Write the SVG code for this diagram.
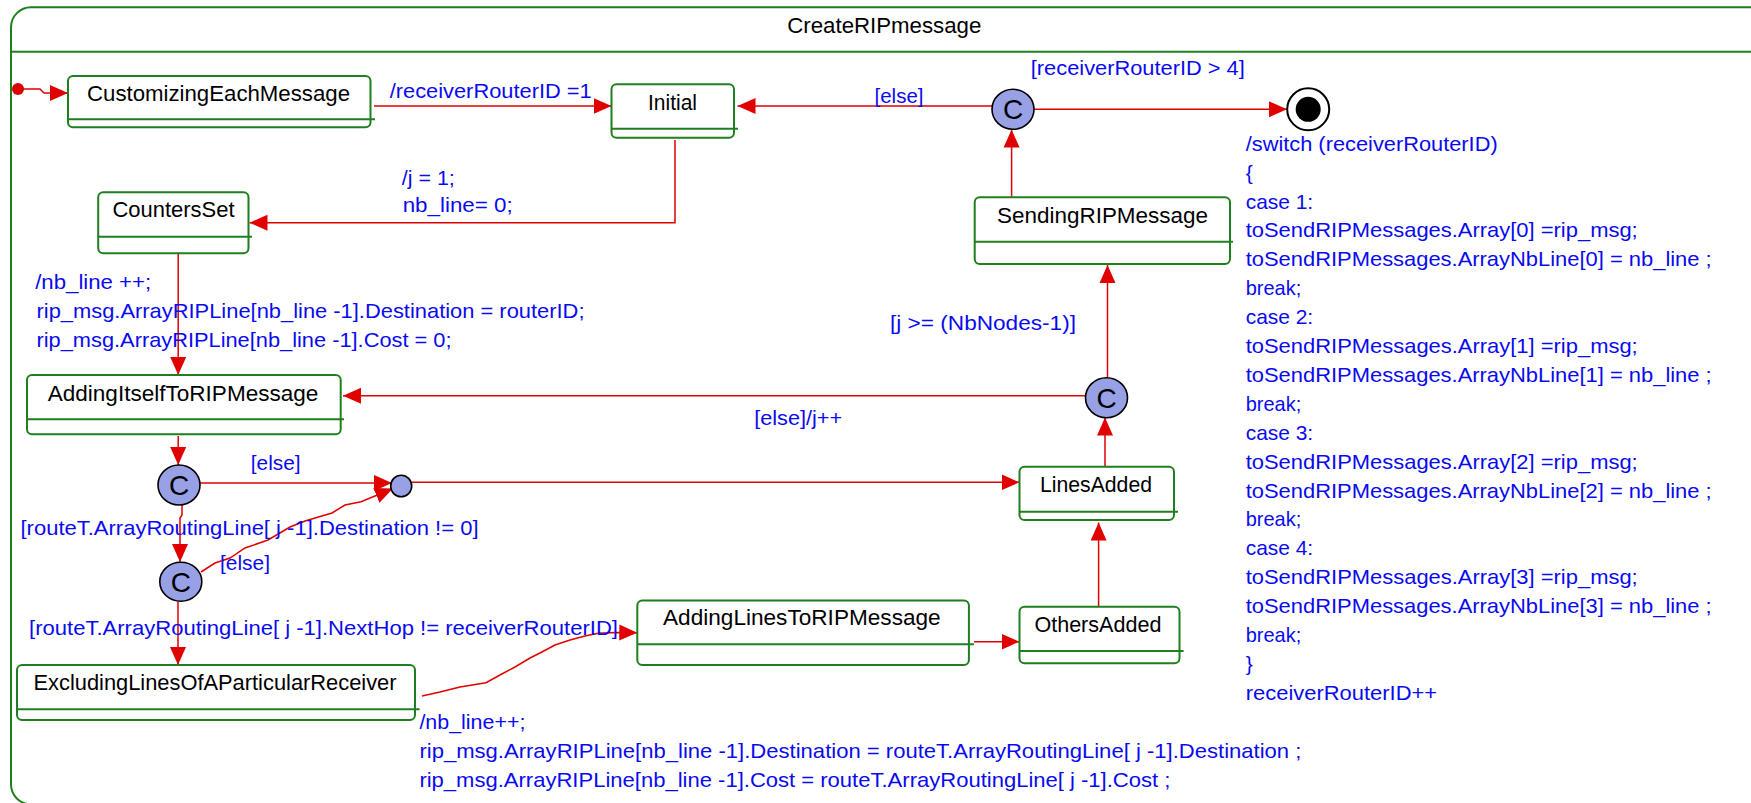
<svg xmlns="http://www.w3.org/2000/svg" width="1751" height="803" viewBox="0 0 1751 803">
<style>
.frame{fill:none;stroke:#1f7f1f;stroke-width:2}
.box{fill:#fff;stroke:#1f7f1f;stroke-width:2}
.div{stroke:#1f7f1f;stroke-width:2}
.nt{font-family:"Liberation Sans",Arial,sans-serif;font-size:22px;fill:#000}
.lb{font-family:"Liberation Sans",Arial,sans-serif;font-size:21px;fill:#0a0af0}
.ct{font-family:"Liberation Sans",Arial,sans-serif;font-size:28px;fill:#000;text-anchor:middle}
.cc{fill:#99a1e6;stroke:#000;stroke-width:1.6}
.ed{fill:none;stroke:#e00000;stroke-width:1.5;marker-end:url(#ah)}
</style>
<defs>
<marker id="ah" markerUnits="userSpaceOnUse" markerWidth="20" markerHeight="18" refX="18" refY="8" orient="auto" viewBox="0 0 20 16">
<path d="M0,0 L18,8 L0,16 z" fill="#e00000"/>
</marker>
</defs>
<rect x="0" y="0" width="1751" height="803" fill="#fff"/>
<g id="frame">
<rect class="frame" x="11" y="7.3" width="1770" height="797" rx="20"/>
<line class="div" x1="11" y1="51.7" x2="1751" y2="51.7"/>
<text class="nt" x="787.3" y="33.3" textLength="194" lengthAdjust="spacingAndGlyphs">CreateRIPmessage</text>
</g>
<g id="connectors">
<path class="ed" d="M18,89 L40,89 L44,93 L68,93" stroke="#e85050"/>
<path class="ed" d="M374,106 L611.5,106"/>
<path class="ed" d="M675,140 L675,222.7 L249.5,222.7"/>
<path class="ed" d="M178.2,254 L178.2,375"/>
<path class="ed" d="M178.2,436 L178.2,465"/>
<path class="ed" d="M200,483 L392,483"/>
<path class="ed" d="M182,505 L182,515 L180,518 L180,562"/>
<path class="ed" d="M201,572 L215,563 L230,558 L245,548 L268,540 L290,527 L305,521 L332,513 L345,505 L361,501.7 L375,496 L393,488.5"/>
<path class="ed" d="M178,601.7 L178,665"/>
<path class="ed" d="M422,696 L440,692 L460,687 L486,682.7 L500,675 L515,667 L530,658 L540,653 L555,645 L570,640 L585,636 L598,633.3 L615,632.5 L637.3,632.7"/>
<path class="ed" d="M412,482.3 L1019.5,482.3"/>
<path class="ed" d="M974,641.7 L1019.5,641.7"/>
<path class="ed" d="M1098.6,606.7 L1098.6,522.5"/>
<path class="ed" d="M1105,466.7 L1105,417.5"/>
<path class="ed" d="M1085.5,395.7 L343,395.7"/>
<path class="ed" d="M1107.5,377.7 L1107.5,265"/>
<path class="ed" d="M1011.6,196.7 L1011.6,129.5"/>
<path class="ed" d="M992,106 L737.5,106"/>
<path class="ed" d="M1034,109.3 L1287,109.3"/>
</g>
<g id="labels">
<text class="lb" x="389.7" y="98.3" textLength="202" lengthAdjust="spacingAndGlyphs">/receiverRouterID =1</text>
<text class="lb" x="874.5" y="103.3" textLength="49" lengthAdjust="spacingAndGlyphs">[else]</text>
<text class="lb" x="1030.8" y="75" textLength="214" lengthAdjust="spacingAndGlyphs">[receiverRouterID &gt; 4]</text>
<text class="lb" x="401.8" y="185" textLength="53" lengthAdjust="spacingAndGlyphs">/j = 1;</text>
<text class="lb" x="402.7" y="211.7" textLength="110" lengthAdjust="spacingAndGlyphs">nb_line= 0;</text>
<text class="lb" x="35.2" y="289.3" textLength="116" lengthAdjust="spacingAndGlyphs">/nb_line ++;</text>
<text class="lb" x="36.5" y="318.3" textLength="548" lengthAdjust="spacingAndGlyphs">rip_msg.ArrayRIPLine[nb_line -1].Destination = routerID;</text>
<text class="lb" x="36.5" y="346.7" textLength="415" lengthAdjust="spacingAndGlyphs">rip_msg.ArrayRIPLine[nb_line -1].Cost = 0;</text>
<text class="lb" x="890" y="330" textLength="186" lengthAdjust="spacingAndGlyphs">[j &gt;= (NbNodes-1)]</text>
<text class="lb" x="754.2" y="425" textLength="88" lengthAdjust="spacingAndGlyphs">[else]/j++</text>
<text class="lb" x="250.8" y="470" textLength="49.7" lengthAdjust="spacingAndGlyphs">[else]</text>
<text class="lb" x="20.5" y="535" textLength="458" lengthAdjust="spacingAndGlyphs">[routeT.ArrayRoutingLine[ j -1].Destination != 0]</text>
<text class="lb" x="220" y="570" textLength="50" lengthAdjust="spacingAndGlyphs">[else]</text>
<text class="lb" x="29" y="635" textLength="589" lengthAdjust="spacingAndGlyphs">[routeT.ArrayRoutingLine[ j -1].NextHop != receiverRouterID]</text>
<text class="lb" x="419.4" y="729" textLength="106" lengthAdjust="spacingAndGlyphs">/nb_line++;</text>
<text class="lb" x="419.4" y="758" textLength="882" lengthAdjust="spacingAndGlyphs">rip_msg.ArrayRIPLine[nb_line -1].Destination = routeT.ArrayRoutingLine[ j -1].Destination ;</text>
<text class="lb" x="419.4" y="786.5" textLength="751" lengthAdjust="spacingAndGlyphs">rip_msg.ArrayRIPLine[nb_line -1].Cost = routeT.ArrayRoutingLine[ j -1].Cost ;</text>
<text class="lb" x="1245.7" y="150.7" textLength="252" lengthAdjust="spacingAndGlyphs">/switch (receiverRouterID)</text>
<text class="lb" x="1245.7" y="179.6">{</text>
<text class="lb" x="1245.7" y="208.5" textLength="67.5" lengthAdjust="spacingAndGlyphs">case 1:</text>
<text class="lb" x="1245.7" y="237.4" textLength="392" lengthAdjust="spacingAndGlyphs">toSendRIPMessages.Array[0] =rip_msg;</text>
<text class="lb" x="1245.7" y="266.3" textLength="466" lengthAdjust="spacingAndGlyphs">toSendRIPMessages.ArrayNbLine[0] = nb_line ;</text>
<text class="lb" x="1245.7" y="295.2" textLength="55.5" lengthAdjust="spacingAndGlyphs">break;</text>
<text class="lb" x="1245.7" y="324.1" textLength="67.5" lengthAdjust="spacingAndGlyphs">case 2:</text>
<text class="lb" x="1245.7" y="353" textLength="392" lengthAdjust="spacingAndGlyphs">toSendRIPMessages.Array[1] =rip_msg;</text>
<text class="lb" x="1245.7" y="381.9" textLength="466" lengthAdjust="spacingAndGlyphs">toSendRIPMessages.ArrayNbLine[1] = nb_line ;</text>
<text class="lb" x="1245.7" y="410.8" textLength="55.5" lengthAdjust="spacingAndGlyphs">break;</text>
<text class="lb" x="1245.7" y="439.7" textLength="67.5" lengthAdjust="spacingAndGlyphs">case 3:</text>
<text class="lb" x="1245.7" y="468.6" textLength="392" lengthAdjust="spacingAndGlyphs">toSendRIPMessages.Array[2] =rip_msg;</text>
<text class="lb" x="1245.7" y="497.5" textLength="466" lengthAdjust="spacingAndGlyphs">toSendRIPMessages.ArrayNbLine[2] = nb_line ;</text>
<text class="lb" x="1245.7" y="526.4" textLength="55.5" lengthAdjust="spacingAndGlyphs">break;</text>
<text class="lb" x="1245.7" y="555.3" textLength="67.5" lengthAdjust="spacingAndGlyphs">case 4:</text>
<text class="lb" x="1245.7" y="584.2" textLength="392" lengthAdjust="spacingAndGlyphs">toSendRIPMessages.Array[3] =rip_msg;</text>
<text class="lb" x="1245.7" y="613.1" textLength="466" lengthAdjust="spacingAndGlyphs">toSendRIPMessages.ArrayNbLine[3] = nb_line ;</text>
<text class="lb" x="1245.7" y="642" textLength="55.5" lengthAdjust="spacingAndGlyphs">break;</text>
<text class="lb" x="1245.7" y="670.9">}</text>
<text class="lb" x="1245.7" y="699.8" textLength="191.5" lengthAdjust="spacingAndGlyphs">receiverRouterID++</text>
</g>
<g id="start"><circle cx="18" cy="89" r="6" fill="#d80000"/></g>
<g id="CustomizingEachMessage">
<rect class="box" x="68" y="76" width="302.5" height="51.3" rx="5"/>
<line class="div" x1="68" y1="119.3" x2="375" y2="119.3"/>
<text class="nt" x="87" y="101" textLength="263" lengthAdjust="spacingAndGlyphs">CustomizingEachMessage</text>
</g>
<g id="Initial">
<rect class="box" x="611.5" y="84.3" width="122.5" height="53.4" rx="5"/>
<line class="div" x1="611.5" y1="128.8" x2="738" y2="128.8"/>
<text class="nt" x="648" y="110" textLength="49" lengthAdjust="spacingAndGlyphs">Initial</text>
</g>
<g id="CountersSet">
<rect class="box" x="98.2" y="192.3" width="150.3" height="61" rx="5"/>
<line class="div" x1="98.2" y1="236.7" x2="252" y2="236.7"/>
<text class="nt" x="112.5" y="216.7" textLength="122" lengthAdjust="spacingAndGlyphs">CountersSet</text>
</g>
<g id="SendingRIPMessage">
<rect class="box" x="974.7" y="197.3" width="255.3" height="66.7" rx="5"/>
<line class="div" x1="974.7" y1="241.7" x2="1233" y2="241.7"/>
<text class="nt" x="997" y="223.3" textLength="211" lengthAdjust="spacingAndGlyphs">SendingRIPMessage</text>
</g>
<g id="AddingItselfToRIPMessage">
<rect class="box" x="27" y="375" width="313.7" height="59.3" rx="5"/>
<line class="div" x1="27" y1="419.3" x2="344" y2="419.3"/>
<text class="nt" x="47.7" y="400.7" textLength="270.7" lengthAdjust="spacingAndGlyphs">AddingItselfToRIPMessage</text>
</g>
<g id="LinesAdded">
<rect class="box" x="1019.5" y="466.7" width="154.5" height="53.3" rx="5"/>
<line class="div" x1="1019.5" y1="511.7" x2="1178" y2="511.7"/>
<text class="nt" x="1040" y="491.7" textLength="112" lengthAdjust="spacingAndGlyphs">LinesAdded</text>
</g>
<g id="ExcludingLinesOfAParticularReceiver">
<rect class="box" x="17" y="665" width="398" height="55" rx="5"/>
<line class="div" x1="17" y1="709.3" x2="419.6" y2="709.3"/>
<text class="nt" x="33.5" y="690" textLength="363" lengthAdjust="spacingAndGlyphs">ExcludingLinesOfAParticularReceiver</text>
</g>
<g id="AddingLinesToRIPMessage">
<rect class="box" x="637.3" y="600.5" width="331.6" height="64.5" rx="5"/>
<line class="div" x1="637.3" y1="644.3" x2="974" y2="644.3"/>
<text class="nt" x="663" y="625" textLength="277.7" lengthAdjust="spacingAndGlyphs">AddingLinesToRIPMessage</text>
</g>
<g id="OthersAdded">
<rect class="box" x="1019.5" y="606.7" width="160" height="56.6" rx="5"/>
<line class="div" x1="1019.5" y1="651" x2="1183.6" y2="651"/>
<text class="nt" x="1034.4" y="631.7" textLength="127" lengthAdjust="spacingAndGlyphs">OthersAdded</text>
</g>
<g id="choice1"><ellipse class="cc" cx="1013" cy="109.3" rx="21" ry="20"/><text class="ct" x="1013" y="119.3">C</text></g>
<g id="choice2"><ellipse class="cc" cx="1106.5" cy="397.7" rx="21" ry="20"/><text class="ct" x="1106.5" y="407.7">C</text></g>
<g id="choice3"><ellipse class="cc" cx="179" cy="485" rx="21" ry="20"/><text class="ct" x="179" y="495">C</text></g>
<g id="choice4"><ellipse class="cc" cx="180.8" cy="581.7" rx="21" ry="19.5"/><text class="ct" x="180.8" y="591.7">C</text></g>
<g id="junction"><ellipse class="cc" cx="401.2" cy="486" rx="10.5" ry="10.8"/></g>
<g id="final">
<circle cx="1308.2" cy="109.3" r="21" fill="#fff" stroke="#000" stroke-width="2"/>
<circle cx="1308.2" cy="109.3" r="12.5" fill="#000"/>
</g>
</svg>
